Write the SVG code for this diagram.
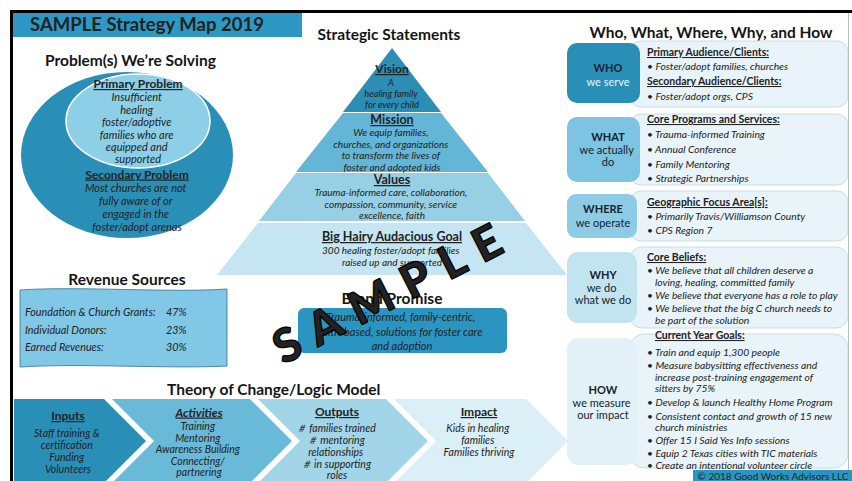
<svg xmlns="http://www.w3.org/2000/svg" width="852" height="481" viewBox="0 0 852 481">
<style>
  text { font-family: Lato, "Open Sans", "Liberation Sans", sans-serif; fill: #222; }
  .c { text-anchor: middle; }
  .h { font-weight: 700; font-size: 15.5px; fill: #151515; }
  .u { font-weight: 700; text-decoration: underline; }
  .i { font-style: italic; }
  .ell { font-size: 11px; }
  .pyr { font-size: 10px; }
  .chev { font-size: 10.5px; }
  .rb { font-size: 10.3px; }
  .rh { font-size: 10.5px; }
  .lab { font-size: 11px; fill: #14232e; }
  .labw { font-size: 11px; fill: #e6f3fa; }
  .content { fill: #e8f4f9; stroke: #c9dde6; stroke-width: 1; }
</style>

<rect width="852" height="481" fill="#ffffff"/>

<!-- title bar -->
<g id="title">
  <rect x="13" y="12" width="289" height="25" fill="#2d98c3"/>
  <text x="30" y="31" font-size="18.5" font-weight="700" fill="#141414">SAMPLE Strategy Map 2019</text>
</g>

<!-- problems -->
<g id="problems">
  <text class="h" x="45" y="66">Problem(s) We’re Solving</text>
  <ellipse cx="127" cy="155" rx="106" ry="83" fill="#2a8fb7"/>
  <ellipse cx="138" cy="121" rx="72" ry="47" fill="#8dcfe7" stroke="#ffffff" stroke-width="1.5"/>
  <text class="c u" x="138" y="88" font-size="12">Primary Problem</text>
  <text class="c i ell" x="138">
    <tspan x="138" y="101">Insufficient</tspan>
    <tspan x="138" y="113.5">healing</tspan>
    <tspan x="138" y="126">foster/adoptive</tspan>
    <tspan x="138" y="138.5">families who are</tspan>
    <tspan x="138" y="151">equipped and</tspan>
    <tspan x="138" y="163">supported</tspan>
  </text>
  <text class="c u" x="137" y="178.5" font-size="12">Secondary Problem</text>
  <text class="c i ell">
    <tspan x="137" y="191.5">Most churches are not</tspan>
    <tspan x="137" y="204.5">fully aware of or</tspan>
    <tspan x="137" y="217.5">engaged in the</tspan>
    <tspan x="137" y="230.5">foster/adopt arenas</tspan>
  </text>
</g>

<!-- strategic statements pyramid -->
<g id="strategic-statements">
  <text class="h c" x="389" y="40">Strategic Statements</text>
  <g id="vision">
    <polygon points="392,48 343,112 441,112" fill="#2c8db5"/>
    <text class="c u" x="392" y="73" font-size="12">Vision</text>
    <text class="c i" font-size="9.3">
      <tspan x="392" y="86">A</tspan>
      <tspan x="392" y="97">healing family</tspan>
      <tspan x="392" y="107.5">for every child</tspan>
    </text>
  </g>
  <g id="mission">
    <polygon points="343,113 441,113 488,172 296,172" fill="#63b6d7"/>
    <text class="c u" x="392" y="124" font-size="12.5">Mission</text>
    <text class="c i pyr">
      <tspan x="392" y="136">We equip families,</tspan>
      <tspan x="392" y="147.5">churches, and organizations</tspan>
      <tspan x="392" y="159">to transform the lives of</tspan>
      <tspan x="392" y="170.5">foster and adopted kids</tspan>
    </text>
  </g>
  <g id="values">
    <polygon points="296,173 488,173 525,221 259,221" fill="#97cfe5"/>
    <text class="c u" x="392" y="184" font-size="12.5">Values</text>
    <text class="c i pyr">
      <tspan x="392" y="196">Trauma-informed care, collaboration,</tspan>
      <tspan x="392" y="207.5">compassion, community, service</tspan>
      <tspan x="392" y="219">excellence, faith</tspan>
    </text>
  </g>
  <g id="bhag">
    <polygon points="258,223 526,223 567,275 217,275" fill="#c4e5f1"/>
    <text class="c u" x="392" y="241" font-size="12.5">Big Hairy Audacious Goal</text>
    <text class="c i pyr">
      <tspan x="392" y="254">300 healing foster/adopt families</tspan>
      <tspan x="392" y="265.5">raised up and supported</tspan>
    </text>
  </g>
</g>

<!-- brand promise -->
<g id="brand-promise">
  <text class="h c" x="392" y="304" font-size="15">Brand Promise</text>
  <rect x="298" y="308" width="209" height="45" rx="6" fill="#2a95c0"/>
  <text class="c i" font-size="11" fill="#10222e">
    <tspan x="402" y="321">Trauma-informed, family-centric,</tspan>
    <tspan x="402" y="335.5">faith-based, solutions for foster care</tspan>
    <tspan x="402" y="350">and adoption</tspan>
  </text>
</g>

<!-- revenue sources -->
<g id="revenue">
  <text class="h c" x="127" y="285" font-size="15">Revenue Sources</text>
  <path d="M20,290 C80,286 170,293 227,289 L227,366 C170,369 80,363 20,367 Z" fill="#80c8e6" stroke="#4b86a8" stroke-width="1"/>
  <g class="i" font-size="10.8">
    <text x="25" y="316">Foundation &amp; Church Grants:</text>
    <text x="166" y="316">47%</text>
    <text x="25" y="333.5">Individual Donors:</text>
    <text x="166" y="333.5">23%</text>
    <text x="25" y="351">Earned Revenues:</text>
    <text x="166" y="351">30%</text>
  </g>
</g>

<!-- theory of change chevrons -->
<g id="theory-of-change">
  <text class="h" x="167" y="395" font-size="15.5">Theory of Change/Logic Model</text>
  <g id="inputs">
    <path d="M14,399 H104 L146,441 L104,483 H14 Z" fill="#2a8fb7"/>
    <text class="c u" x="68" y="420" font-size="12">Inputs</text>
    <text class="c i chev">
      <tspan x="68" y="437">Staff training &amp;</tspan>
      <tspan x="68" y="449">certification</tspan>
      <tspan x="68" y="461">Funding</tspan>
      <tspan x="68" y="473">Volunteers</tspan>
    </text>
  </g>
  <g id="activities">
    <path d="M112,399 H250 L292,441 L250,483 H112 L154,441 Z" fill="#69bad9"/>
    <text class="c u i" x="199" y="416.5" font-size="12">Activities</text>
    <text class="c i chev">
      <tspan x="199" y="430">Training</tspan>
      <tspan x="199" y="441.5">Mentoring</tspan>
      <tspan x="199" y="453">Awareness Building</tspan>
      <tspan x="199" y="464.5">Connecting/</tspan>
      <tspan x="199" y="476">partnering</tspan>
    </text>
  </g>
  <g id="outputs">
    <path d="M258,399 H386 L428,441 L386,483 H258 L300,441 Z" fill="#a3d5e9"/>
    <text class="c u" x="337" y="416" font-size="12">Outputs</text>
    <text class="c i chev">
      <tspan x="337" y="432">＃ families trained</tspan>
      <tspan x="337" y="444">＃ mentoring</tspan>
      <tspan x="337" y="456">relationships</tspan>
      <tspan x="337" y="467.5">＃ in supporting</tspan>
      <tspan x="337" y="479">roles</tspan>
    </text>
  </g>
  <g id="impact">
    <path d="M394,399 H526 L568,441 L526,483 H394 L436,441 Z" fill="#dbeff7"/>
    <text class="c u" x="479" y="416" font-size="12">Impact</text>
    <text class="c i chev">
      <tspan x="479" y="432">Kids in healing</tspan>
      <tspan x="479" y="444">families</tspan>
      <tspan x="479" y="456">Families thriving</tspan>
    </text>
  </g>
</g>

<!-- who / what / where / why / how -->
<g id="five-questions">
  <text class="h c" x="711" y="38">Who, What, Where, Why, and How</text>

  <g id="who">
    <rect class="content" x="630" y="41" width="218" height="66" rx="11"/>
    <rect x="567" y="43" width="73" height="60" rx="10" fill="#2a8fb7"/>
    <text class="c lab" x="608" y="72" font-weight="700">WHO</text>
    <text class="c labw" x="608" y="86">we serve</text>
    <text class="rh u" x="647" y="56">Primary Audience/Clients:</text>
    <text class="rb i" x="647" y="70">• Foster/adopt families, churches</text>
    <text class="rh u" x="647" y="85">Secondary Audience/Clients:</text>
    <text class="rb i" x="647" y="100">• Foster/adopt orgs, CPS</text>
  </g>

  <g id="what">
    <rect class="content" x="630" y="114" width="218" height="71" rx="11"/>
    <rect x="567" y="117" width="73" height="65" rx="10" fill="#7cc4e1"/>
    <text class="c lab" x="608" y="141" font-weight="700">WHAT</text>
    <text class="c lab">
      <tspan x="608" y="153.5">we actually</tspan>
      <tspan x="608" y="166">do</tspan>
    </text>
    <text class="rh u" x="647" y="123">Core Programs and Services:</text>
    <text class="rb i">
      <tspan x="647" y="138">• Trauma-informed Training</tspan>
      <tspan x="647" y="153">• Annual Conference</tspan>
      <tspan x="647" y="168">• Family Mentoring</tspan>
      <tspan x="647" y="182">• Strategic Partnerships</tspan>
    </text>
  </g>

  <g id="where">
    <rect class="content" x="630" y="191" width="218" height="50" rx="11"/>
    <rect x="567" y="194" width="70" height="44" rx="9" fill="#8dcce4"/>
    <text class="c lab" x="603" y="213" font-weight="700">WHERE</text>
    <text class="c lab" x="603" y="227">we operate</text>
    <text class="rh u" x="647" y="206">Geographic Focus Area[s]:</text>
    <text class="rb i">
      <tspan x="647" y="220">• Primarily Travis/Williamson County</tspan>
      <tspan x="647" y="234">• CPS Region 7</tspan>
    </text>
  </g>

  <g id="why">
    <rect class="content" x="630" y="247" width="218" height="81" rx="12"/>
    <rect x="567" y="252" width="70" height="71" rx="11" fill="#c2e4f1"/>
    <text class="c lab" x="603" y="279" font-weight="700">WHY</text>
    <text class="c lab">
      <tspan x="603" y="291.5">we do</tspan>
      <tspan x="603" y="304">what we do</tspan>
    </text>
    <text class="rh u" x="647" y="261">Core Beliefs:</text>
    <text class="rb i">
      <tspan x="647" y="274">• We believe that all children deserve a</tspan>
      <tspan x="655" y="285.5">loving, healing, committed family</tspan>
      <tspan x="647" y="299">• We believe that everyone has a role to play</tspan>
      <tspan x="647" y="312">• We believe that the big C church needs to</tspan>
      <tspan x="655" y="324">be part of the solution</tspan>
    </text>
  </g>

  <g id="how">
    <rect class="content" x="630" y="334" width="218" height="134" rx="14"/>
    <rect x="567" y="338" width="70" height="127" rx="12" fill="#e2f1f7"/>
    <text class="c lab" x="603" y="394" font-weight="700">HOW</text>
    <text class="c lab">
      <tspan x="603" y="407">we measure</tspan>
      <tspan x="603" y="419">our impact</tspan>
    </text>
    <text class="rh u" x="655" y="339">Current Year Goals:</text>
    <text class="rb i">
      <tspan x="647" y="356">• Train and equip 1,300 people</tspan>
      <tspan x="647" y="369">• Measure babysitting effectiveness and</tspan>
      <tspan x="655" y="381">increase post-training engagement of</tspan>
      <tspan x="655" y="392">sitters by 75%</tspan>
      <tspan x="647" y="406">• Develop &amp; launch Healthy Home Program</tspan>
      <tspan x="647" y="420">• Consistent contact and growth of 15 new</tspan>
      <tspan x="655" y="431">church ministries</tspan>
      <tspan x="647" y="444">• Offer 15 I Said Yes Info sessions</tspan>
      <tspan x="647" y="457">• Equip 2 Texas cities with TIC materials</tspan>
      <tspan x="647" y="469">• Create an intentional volunteer circle</tspan>
    </text>
  </g>
</g>

<!-- copyright strip -->
<g id="copyright">
  <rect x="693" y="470" width="159" height="11" fill="#2a95c0"/>
  <text class="c" x="773" y="480" font-size="10" fill="#10222e">© 2018 Good Works Advisors LLC</text>
</g>

<!-- outer frame -->
<g id="frame" fill="none">
  <path d="M11.5,481 V11.5 H852" stroke="#000" stroke-width="3"/>
  <path d="M848.5,13 V470" stroke="#bbbbbb" stroke-width="1"/>
</g>

<!-- watermark -->
<g id="watermark" transform="translate(387,293) rotate(-27)">
  <text class="c" x="7" y="17" font-size="46" font-weight="900" letter-spacing="14" fill="#000" stroke="#000" stroke-width="1.2" stroke-linejoin="round">SAMPLE</text>
</g>
</svg>
